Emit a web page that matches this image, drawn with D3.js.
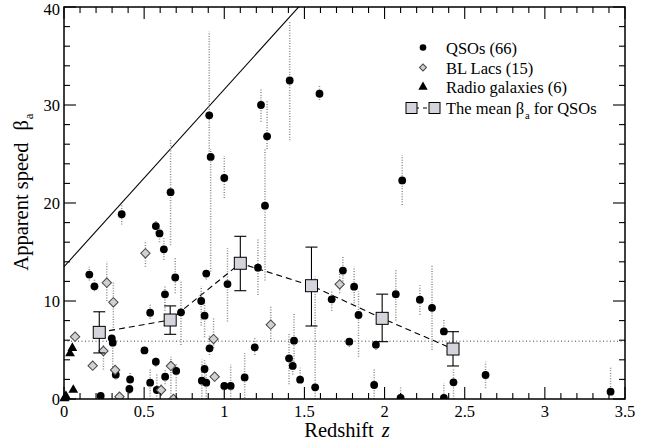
<!DOCTYPE html>
<html><head><meta charset="utf-8">
<script src="https://cdn.jsdelivr.net/npm/d3@7"></script>
<style>body{margin:0;background:#fff}svg{display:block}</style>
</head><body><svg id="c" width="659" height="441" font-family="'Liberation Serif', 'Times New Roman', 'DejaVu Serif', serif"></svg>
<script>
// [z, beta, lo, hi]
const qsoPoints = [
 [0.36,18.85,17.8,19.8],[0.573,17.65,17.0,18.3],[0.596,16.9,16.0,17.6],[0.623,15.27,14.2,16.4],
 [0.665,21.1,15.7,26.4],[0.915,24.7,13.0,25.5],[1.0,22.55,20.5,24.8],[0.906,28.95,25.0,37.5],
 [1.229,30.0,28.3,31.7],[1.408,32.5,26.4,38.5],[1.594,31.15,30.5,32.0],[1.267,26.8,25.5,30.4],
 [1.254,19.73,12.1,25.5],[2.11,22.3,19.8,24.9],
 [0.158,12.7,12.1,13.5],[0.19,11.5,11.0,12.2],[0.8875,12.8,12.2,13.2],[0.694,12.4,10.8,14.5],
 [1.21,13.4,10.6,16.3],[1.74,13.1,12.0,14.6],[1.81,11.46,9.5,13.5],[1.67,10.17,9.0,11.0],
 [1.8375,8.57,4.3,11.0],[2.07,10.7,8.0,13.3],[2.22,10.14,8.6,11.6],[2.296,9.3,5.0,13.7],
 [2.37,6.9,6.9,8.1],[1.02,11.73,7.9,15.4],[0.63,10.68,9.0,11.5],[0.5375,8.8,8.2,9.8],
 [0.73,8.84,5.5,12.0],[0.856,10.0,7.5,11.5],[0.877,8.5,6.3,9.8],
 [1.78,5.85,5.3,6.3],[1.946,5.54,5.0,6.0],[1.435,5.95,3.0,8.8],[1.19,5.27,4.5,6.2],
 [1.404,4.15,1.5,6.7],[1.427,3.37,2.5,4.0],[1.473,1.97,1.8,3.2],[1.567,1.19,0,12.5],
 [1.127,2.2,0.1,4.7],[1.935,1.43,0,3.2],[2.10,0.1,0,1.2],[2.37,0.1,0,1.6],
 [2.43,1.7,0,3.0],[2.63,2.45,1.1,3.8],[3.41,0.75,0.7,3.3],
 [0.298,6.19,5.8,6.6],[0.304,5.75,3.0,6.0],[0.502,4.96,null,null],[0.573,3.8,3.3,4.3],
 [0.70,2.86,0.8,3.7],[0.631,2.28,1.5,3.0],[0.323,2.48,2.0,3.0],[0.4125,2.0,1.5,2.8],
 [0.408,1.02,0.5,1.5],[0.5375,1.67,0,3.0],[0.579,0.92,0,2.5],[0.229,0.31,null,null],
 [0.908,5.17,4.5,6.5],[0.877,3.06,2.0,4.0],[0.86,1.87,0,4.0],[0.8875,1.67,0,3.5],
 [1.0,1.33,0,1.33],[1.04,1.33,0,3.5]
];
const blLacPoints = [
 [0.308,9.87,7.0,12.0],[0.069,6.36,6.0,6.8],[0.246,4.9,3.0,5.5],[0.179,3.4,3.0,3.8],
 [0.319,2.96,2.5,3.5],[0.667,3.37,0,4.3],[0.606,0.92,0.3,1.5],[0.346,0.24,null,null],
 [0.683,0,null,null],[0.267,11.87,10.0,14.0],[0.508,14.87,13.5,16.0],[0.933,6.12,5.2,8.3],
 [0.94,2.28,1.8,2.8],[1.29,7.58,5.85,9.5],[1.72,11.7,10.8,12.8]
];
const radioPoints = [[0.052,5.2],[0.0375,4.65],[0.058,0.92],[0.006,0.17],[0.003,0.05],[0.012,0.3]];
const meanPoints = [
 [0.22,6.8,4.7,8.9],[0.6625,8.06,6.6,9.5],[1.10,13.85,11.05,16.6],
 [1.544,11.56,7.45,15.5],[1.985,8.23,5.85,10.7],[2.427,5.1,3.37,6.87]
];
const limitLine = {intercept:13.5, slope:18.1};
const refBeta = 5.9;
const xTickLabels = [0,0.5,1,1.5,2,2.5,3,3.5];
const yTickLabels = [0,10,20,30,40];
const legendLabels = ["QSOs (66)","BL Lacs (15)","Radio galaxies (6)"];

const svg = d3.select("#c");
const L=64,R=625,T=7,B=399;
const x = d3.scaleLinear().domain([0,3.5]).range([L,R]);
const y = d3.scaleLinear().domain([0,40]).range([B,T]);

const defs = svg.append("defs");
defs.append("clipPath").attr("id","clip").append("rect").attr("x",L).attr("y",T).attr("width",R-L).attr("height",B-T);
const plot = svg.append("g").attr("clip-path","url(#clip)");

plot.append("line").attr("x1",L).attr("x2",R).attr("y1",y(refBeta)).attr("y2",y(refBeta))
  .attr("stroke","#444").attr("stroke-width",1).attr("stroke-dasharray","1,2.5");
plot.append("line").attr("x1",x(0)).attr("y1",y(limitLine.intercept))
  .attr("x2",x(2)).attr("y2",y(limitLine.intercept+limitLine.slope*2))
  .attr("stroke","#000").attr("stroke-width",1.1);

const ranges = qsoPoints.concat(blLacPoints).filter(d=>d[2]!==null);
plot.selectAll("line.rng").data(ranges).enter().append("line").attr("class","rng")
  .attr("x1",d=>x(d[0])).attr("x2",d=>x(d[0])).attr("y1",d=>y(d[2])).attr("y2",d=>y(d[3]))
  .attr("stroke","#8a8a8a").attr("stroke-width",1.5).attr("stroke-dasharray","1,1.6");

plot.append("path").datum(meanPoints)
  .attr("d",d3.line().x(d=>x(d[0])).y(d=>y(d[1])))
  .attr("fill","none").attr("stroke","#000").attr("stroke-width",1.1).attr("stroke-dasharray","6,4");

plot.selectAll("circle.q").data(qsoPoints).enter().append("circle").attr("class","q")
  .attr("cx",d=>x(d[0])).attr("cy",d=>y(d[1])).attr("r",3.9).attr("fill","#000");

const dia = d3.symbol().type(d3.symbolSquare).size(44);
plot.selectAll("path.b").data(blLacPoints).enter().append("path").attr("class","b")
  .attr("transform",d=>`translate(${x(d[0])},${y(d[1])}) rotate(45)`).attr("d",dia)
  .attr("fill","#cfcfd6").attr("stroke","#444").attr("stroke-width",1);

const tri = d3.symbol().type(d3.symbolTriangle).size(42);
svg.selectAll("path.r").data(radioPoints).enter().append("path").attr("class","r")
  .attr("transform",d=>`translate(${x(d[0])},${y(d[1])})`).attr("d",tri).attr("fill","#000");

const mg = svg.append("g");
meanPoints.forEach(d=>{
  const cx=x(d[0]);
  mg.append("line").attr("x1",cx).attr("x2",cx).attr("y1",y(d[2])).attr("y2",y(d[3])).attr("stroke","#000").attr("stroke-width",1.1);
  [d[2],d[3]].forEach(v=>mg.append("line").attr("x1",cx-6).attr("x2",cx+6).attr("y1",y(v)).attr("y2",y(v)).attr("stroke","#000").attr("stroke-width",1.1));
  mg.append("rect").attr("x",cx-6).attr("y",y(d[1])-6).attr("width",12).attr("height",12)
    .attr("fill","#d4d4dc").attr("stroke","#000").attr("stroke-width",1);
});

const ax = svg.append("g");
function ticks(vals,len,side){
  vals.forEach(v=>{
    if(side==="b") ax.append("line").attr("x1",x(v)).attr("x2",x(v)).attr("y1",B).attr("y2",B-len);
    if(side==="t") ax.append("line").attr("x1",x(v)).attr("x2",x(v)).attr("y1",T).attr("y2",T+len);
    if(side==="l") ax.append("line").attr("y1",y(v)).attr("y2",y(v)).attr("x1",L).attr("x2",L+len);
    if(side==="r") ax.append("line").attr("y1",y(v)).attr("y2",y(v)).attr("x1",R).attr("x2",R-len);
  });
}
const xMinor = d3.range(0,36).map(i=>i/10).filter(v=>Math.abs(v*2-Math.round(v*2))>1e-6);
const yMinor = d3.range(0,41,2).filter(v=>v%10!==0);
ticks(xMinor,6,"b");ticks(xMinor,6,"t");ticks(xTickLabels,12,"b");ticks(xTickLabels,12,"t");
ticks(yMinor,6,"l");ticks(yMinor,6,"r");ticks(yTickLabels,12,"l");ticks(yTickLabels,12,"r");
ax.selectAll("line").attr("stroke","#000").attr("stroke-width",1.1);
svg.append("rect").attr("x",L).attr("y",T).attr("width",R-L).attr("height",B-T)
  .attr("fill","none").attr("stroke","#000").attr("stroke-width",1.5);

svg.selectAll("text.xt").data(xTickLabels).enter().append("text")
  .attr("x",d=>x(d)).attr("y",B+18).attr("text-anchor","middle").attr("font-size",16.5).text(d=>d);
svg.selectAll("text.yt").data(yTickLabels).enter().append("text")
  .attr("x",L-4).attr("y",d=>Math.max(y(d)+5.5,15)).attr("text-anchor","end").attr("font-size",16.5).text(d=>d);

const xt = svg.append("text").attr("x",347).attr("y",437).attr("text-anchor","middle").attr("font-size",20.5);
xt.append("tspan").text("Redshift");
xt.append("tspan").attr("dx",8).attr("font-style","italic").text("z");
const yt = svg.append("text").attr("transform",`translate(28,${192}) rotate(-90)`).attr("text-anchor","middle").attr("font-size",20.5);
yt.append("tspan").text("Apparent speed");
yt.append("tspan").attr("dx",12).text("β");
yt.append("tspan").attr("font-size",13).attr("dy",5).attr("dx",1).text("a");

const lg = svg.append("g");
const lx=423, tx=446, ly=[47.5,67.5,87,108];
lg.append("circle").attr("cx",lx).attr("cy",ly[0]).attr("r",3.3).attr("fill","#000");
lg.append("path").attr("transform",`translate(${lx},${ly[1]}) rotate(45)`).attr("d",d3.symbol().type(d3.symbolSquare).size(24))
  .attr("fill","#cfcfd6").attr("stroke","#444");
lg.append("path").attr("transform",`translate(${lx},${ly[2]})`).attr("d",d3.symbol().type(d3.symbolTriangle).size(38)).attr("fill","#000");
lg.append("line").attr("x1",412).attr("x2",434).attr("y1",ly[3]).attr("y2",ly[3]).attr("stroke","#000").attr("stroke-dasharray","4,4").attr("stroke-dashoffset",-3);
[411.5,434.5].forEach(cx=>lg.append("rect").attr("x",cx-5.5).attr("y",ly[3]-5.5).attr("width",11).attr("height",11)
  .attr("fill","#d4d4dc").attr("stroke","#000"));
legendLabels.forEach((t,i)=>lg.append("text").attr("x",tx).attr("y",ly[i]+6).attr("font-size",16.5).text(t));
const lt = lg.append("text").attr("x",tx).attr("y",ly[3]+6).attr("font-size",16.5);
lt.append("tspan").text("The mean β");
lt.append("tspan").attr("font-size",10.5).attr("dy",5).attr("dx",1).text("a");
lt.append("tspan").attr("dy",-5).text(" for QSOs");
</script></body></html>
